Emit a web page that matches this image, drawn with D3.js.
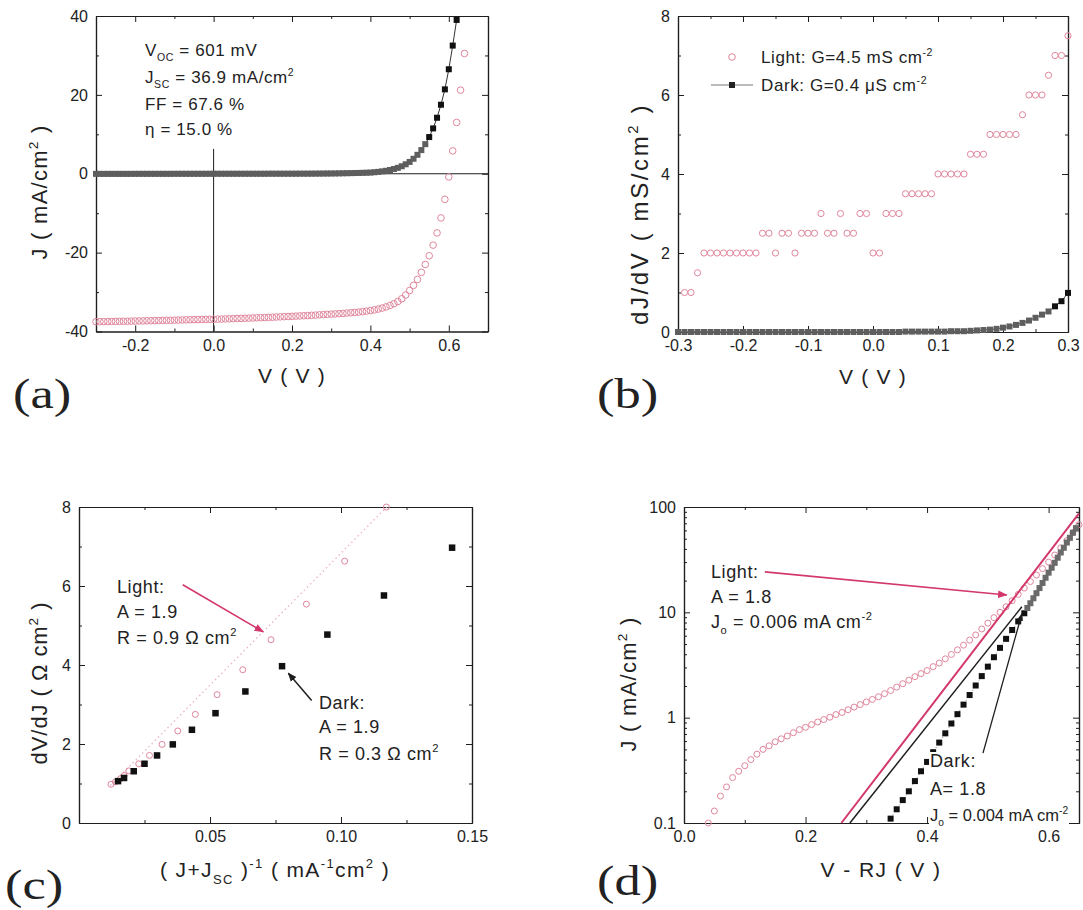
<!DOCTYPE html>
<html><head><meta charset="utf-8">
<script src="https://cdn.jsdelivr.net/npm/d3@7"></script>
<style>
body{margin:0;background:#fff;}
svg{display:block;}
text{font-family:"Liberation Sans",Arial,sans-serif;fill:#222;white-space:pre;}
.serif{font-family:"Liberation Serif","Times New Roman",serif;}
</style></head><body>
<svg id="c" width="1083" height="910"></svg>
<script>
// ---------------- DATA ----------------
// (a) J-V curves
const voltsA = [-0.30,-0.29,-0.28,-0.27,-0.26,-0.25,-0.24,-0.23,-0.22,-0.21,
  -0.20,-0.19,-0.18,-0.17,-0.16,-0.15,-0.14,-0.13,-0.12,-0.11,
  -0.10,-0.09,-0.08,-0.07,-0.06,-0.05,-0.04,-0.03,-0.02,-0.01,
  0.00,0.01,0.02,0.03,0.04,0.05,0.06,0.07,0.08,0.09,
  0.10,0.11,0.12,0.13,0.14,0.15,0.16,0.17,0.18,0.19,
  0.20,0.21,0.22,0.23,0.24,0.25,0.26,0.27,0.28,0.29,
  0.30,0.31,0.32,0.33,0.34,0.35,0.36,0.37,0.38,0.39,
  0.40,0.41,0.42,0.43,0.44,0.45,0.46,0.47,0.48,0.49,
  0.50,0.51,0.52,0.53,0.54,0.55,0.56,0.57,0.58,0.59,
  0.60,0.61,0.62,0.63,0.64];
const lightA = [-37.52,-37.51,-37.50,-37.48,-37.46,-37.44,-37.42,-37.40,-37.39,-37.37,
  -37.35,-37.33,-37.31,-37.29,-37.26,-37.24,-37.22,-37.19,-37.17,-37.15,
  -37.12,-37.10,-37.07,-37.05,-37.02,-36.99,-36.97,-36.95,-36.93,-36.91,
  -36.90,-36.87,-36.84,-36.81,-36.78,-36.75,-36.71,-36.68,-36.64,-36.61,
  -36.57,-36.53,-36.49,-36.46,-36.42,-36.38,-36.33,-36.29,-36.24,-36.20,
  -36.15,-36.10,-36.05,-36.00,-35.95,-35.90,-35.84,-35.78,-35.72,-35.66,
  -35.60,-35.54,-35.48,-35.41,-35.33,-35.25,-35.17,-35.08,-34.98,-34.85,
  -34.70,-34.52,-34.31,-34.06,-33.76,-33.40,-32.95,-32.40,-31.70,-30.75,
  -29.60,-28.30,-26.80,-25.00,-23.00,-20.80,-18.10,-15.00,-11.20,-6.50,
  -0.80,5.80,13.00,21.20,30.50];
const darkA = [-0.03,-0.03,-0.03,-0.03,-0.03,-0.03,-0.03,-0.03,-0.03,-0.03,
  -0.02,-0.02,-0.02,-0.02,-0.02,-0.02,-0.02,-0.02,-0.02,-0.02,
  -0.01,-0.01,-0.01,-0.01,-0.01,-0.01,-0.01,-0.01,-0.01,-0.01,
  0.00,0.00,0.00,0.00,0.00,0.00,0.00,0.00,0.00,0.00,
  0.00,0.00,0.00,0.00,0.01,0.01,0.01,0.01,0.01,0.01,
  0.01,0.01,0.02,0.02,0.02,0.03,0.03,0.04,0.05,0.06,
  0.07,0.08,0.10,0.12,0.14,0.16,0.18,0.20,0.23,0.26,
  0.30,0.38,0.48,0.60,0.75,0.95,1.20,1.50,1.90,2.40,
  3.00,3.80,4.80,6.00,7.50,9.30,11.50,14.20,17.50,21.40,
  26.50,32.50,39.00];

// (b) dJ/dV
const voltsB = [-0.30,-0.29,-0.28,-0.27,-0.26,-0.25,-0.24,-0.23,-0.22,-0.21,
  -0.20,-0.19,-0.18,-0.17,-0.16,-0.15,-0.14,-0.13,-0.12,-0.11,
  -0.10,-0.09,-0.08,-0.07,-0.06,-0.05,-0.04,-0.03,-0.02,-0.01,
  0.00,0.01,0.02,0.03,0.04,0.05,0.06,0.07,0.08,0.09,
  0.10,0.11,0.12,0.13,0.14,0.15,0.16,0.17,0.18,0.19,
  0.20,0.21,0.22,0.23,0.24,0.25,0.26,0.27,0.28,0.29,0.30];
const lightB = [null,1.0,1.0,1.5,2.0,2.0,2.0,2.0,2.0,2.0,
  2.0,2.0,2.0,2.5,2.5,2.0,2.5,2.5,2.0,2.5,
  2.5,2.5,3.0,2.5,2.5,3.0,2.5,2.5,3.0,3.0,
  2.0,2.0,3.0,3.0,3.0,3.5,3.5,3.5,3.5,3.5,
  4.0,4.0,4.0,4.0,4.0,4.5,4.5,4.5,5.0,5.0,
  5.0,5.0,5.0,5.5,6.0,6.0,6.0,6.5,7.0,7.0,7.5];
const darkB = [0,0,0,0,0,0,0,0,0,0,
  0,0,0,0,0,0,0,0,0,0,
  0,0,0,0,0,0,0,0,0,0,
  0.00,0.00,0.00,0.00,0.00,0.01,0.01,0.01,0.01,0.01,
  0.01,0.01,0.02,0.02,0.02,0.03,0.04,0.05,0.06,0.08,
  0.11,0.14,0.18,0.23,0.29,0.36,0.44,0.52,0.65,0.78,0.99];

// (c) dV/dJ vs (J+Jsc)^-1
const invJLight = [0.0122,0.0139,0.0158,0.0172,0.0190,0.0228,0.0269,0.0317,0.0377,0.0444,0.0527,0.0625,0.0733,0.0868,0.1014,0.1173];
const dvdjLight = [0.98,1.04,1.12,1.20,1.32,1.50,1.71,1.99,2.33,2.75,3.25,3.88,4.64,5.54,6.63,8.00];
const invJDark = [0.0149,0.0172,0.0209,0.0250,0.0298,0.0358,0.0431,0.0521,0.0635,0.0775,0.0948,0.1164,0.1424];
const dvdjDark = [1.06,1.14,1.31,1.50,1.71,1.99,2.36,2.78,3.33,3.97,4.77,5.76,6.97];
const fitCx = [0.0120,0.1175];
const fitCy = [0.95,8.00];

// (d) J vs V-RJ (log)
const voltsD = [0.04,0.05,0.06,0.07,0.08,0.09,0.10,0.11,0.12,0.13,
  0.14,0.15,0.16,0.17,0.18,0.19,0.20,0.21,0.22,0.23,
  0.24,0.25,0.26,0.27,0.28,0.29,0.30,0.31,0.32,0.33,
  0.34,0.35,0.36,0.37,0.38,0.39,0.40,0.41,0.42,0.43,
  0.44,0.45,0.46,0.47,0.48,0.49,0.50,0.51,0.52,0.53,
  0.54,0.55,0.56,0.57,0.58,0.59,0.60,0.61,0.62,0.63,0.64,0.65];
const lightD = [0.10,0.13,0.18,0.22,0.27,0.31,0.35,0.40,0.45,0.50,
  0.54,0.59,0.63,0.67,0.72,0.77,0.81,0.86,0.91,0.96,
  1.01,1.07,1.12,1.19,1.26,1.33,1.41,1.49,1.58,1.69,
  1.81,1.95,2.10,2.27,2.45,2.62,2.80,3.05,3.30,3.62,
  3.98,4.40,4.88,5.45,6.10,6.95,7.90,8.90,10.0,11.3,
  12.9,14.8,17.0,19.6,22.6,26.0,30.0,35.0,41.0,48.0,57.0,68.0];
const darkDV = [0.34,0.35,0.36,0.37,0.38,0.39,0.40,0.41,0.42,0.43,0.44,0.45,0.46,0.47,0.48,0.49,0.50,0.51,0.52,0.53,0.54,0.55,0.56,
  0.565,0.57,0.575,0.58,0.585,0.59,0.595,0.60,0.605,0.61,0.615,0.62,0.625,0.63,0.635,0.64,0.645];
const darkDJ = [0.11,0.135,0.165,0.20,0.25,0.31,0.38,0.47,0.58,0.71,0.88,1.08,1.33,1.64,2.02,2.48,3.05,3.75,4.6,5.6,6.8,8.2,9.8,
  11.0,12.2,13.6,15.2,17.0,19.0,21.3,23.8,26.5,29.5,33,37,41,46,51,57,63];
const fitLightDV = [0.259,0.65];
const fitLightDJ = [0.1,87];
const fitDarkDV = [0.273,0.556];
const fitDarkDJ = [0.1,11.3];

// tick values
const ticksAx = [-0.2,0,0.2,0.4,0.6], minorAx = [-0.1,0.1,0.3,0.5];
const ticksAy = [-40,-20,0,20,40], minorAy = [-30,-10,10,30];
const ticksBx = [-0.3,-0.2,-0.1,0,0.1,0.2,0.3], minorBx = [-0.25,-0.15,-0.05,0.05,0.15,0.25];
const ticksBy = [0,2,4,6,8], minorBy = [1,3,5,7];
const ticksCx = [0.05,0.10,0.15], minorCx = [0.025,0.075,0.125];
const ticksCy = [0,2,4,6,8], minorCy = [1,3,5,7];
const ticksDx = [0,0.2,0.4,0.6], minorDx = [0.1,0.3,0.5];
const ticksDy = [0.1,1,10,100], minorDy = [0.2,0.3,0.4,0.5,0.6,0.7,0.8,0.9,2,3,4,5,6,7,8,9,20,30,40,50,60,70,80,90];

// ---------------- DRAWING ----------------
const svg = d3.select("#c");
const ink = "#1e1e1e", pink = "#e0869c", pinkLine = "#d3386b", grayInk = "#5e5e5e";
const defs = svg.append("defs");
function arrowMarker(id, color){
  defs.append("marker").attr("id", id).attr("viewBox","0 0 10 10").attr("refX",9).attr("refY",5)
    .attr("markerWidth",6).attr("markerHeight",6).attr("orient","auto").attr("markerUnits","strokeWidth")
    .append("path").attr("d","M0,1 L10,5 L0,9 z").attr("fill", color);
}
arrowMarker("arP", pinkLine); arrowMarker("arK", ink);

function panel(x0,x1,y0,y1,xdom,ydom,log){
  const x = d3.scaleLinear().domain(xdom).range([x0,x1]);
  const y = (log ? d3.scaleLog() : d3.scaleLinear()).domain(ydom).range([y1,y0]);
  return {x,y,x0,x1,y0,y1,g:svg.append("g")};
}
function axes(p, xMaj, xMin, yMaj, yMin, fx, fy){
  const g = p.g.append("g");
  const mk = (axis, tr, vals, size, fmt, pad) => g.append("g").attr("transform", tr)
      .call(axis.tickValues(vals).tickSizeInner(size).tickSizeOuter(0).tickPadding(pad).tickFormat(fmt));
  const none = () => "";
  mk(d3.axisBottom(p.x), `translate(0,${p.y1})`, xMin, -3, none, 8);
  mk(d3.axisTop(p.x), `translate(0,${p.y0})`, xMin, -3, none, 8);
  mk(d3.axisLeft(p.y), `translate(${p.x0},0)`, yMin, -3, none, 8);
  mk(d3.axisRight(p.y), `translate(${p.x1},0)`, yMin, -3, none, 8);
  mk(d3.axisBottom(p.x), `translate(0,${p.y1})`, xMaj, -6, fx, 8);
  mk(d3.axisTop(p.x), `translate(0,${p.y0})`, xMaj, -6, none, 8);
  mk(d3.axisLeft(p.y), `translate(${p.x0},0)`, yMaj, -6, fy, 8);
  mk(d3.axisRight(p.y), `translate(${p.x1},0)`, yMaj, -6, none, 8);
  g.selectAll(".domain").attr("stroke", ink).attr("stroke-width", 1.2);
  g.selectAll(".tick line").attr("stroke", ink).attr("stroke-width", 1);
  g.selectAll(".tick text").attr("font-size", 16).attr("fill", ink);
}
// rich text with sub/superscripts. parts: strings or [str,'sub'|'sup']
function rich(g, x, y, parts, size, anchor){
  const t = g.append("text").attr("x", x).attr("y", y).attr("font-size", size)
    .attr("text-anchor", anchor || "start");
  let off = 0;
  parts.forEach(p => {
    let s, shift, fs;
    if (typeof p === "string") { s = p; shift = 0; fs = size; }
    else { s = p[0]; shift = p[1] === "sub" ? size*0.32 : -size*0.42; fs = size*0.62; }
    t.append("tspan").text(s).attr("dy", shift - off).attr("font-size", fs);
    off = shift;
  });
  return t;
}
function fit(t, target){
  const L = t.node().getComputedTextLength();
  const n = t.text().length;
  t.attr("letter-spacing", Math.max(0, (target - L) / n));
  return t;
}
function ytitle(g, cx, cy, parts, len, size){
  const gg = g.append("g").attr("transform", `translate(${cx},${cy}) rotate(-90)`);
  fit(rich(gg, 0, 0, parts, size || 21, "middle"), len);
}
function xtitle(g, cx, y, parts, len){
  fit(rich(g, cx, y, parts, 21, "middle"), len);
}
function plabel(x, y, s){
  svg.append("text").attr("class","serif").attr("transform", `translate(${x},${y}) scale(1.25,1)`)
    .attr("font-size", 42).attr("fill", "#1a1a1a").text(s);
}
function circles(p, pts, r){
  p.g.append("g").selectAll("circle").data(pts).join("circle")
    .attr("cx", d => p.x(d[0])).attr("cy", d => p.y(d[1])).attr("r", r || 3.2)
    .attr("fill", "none").attr("stroke", pink).attr("stroke-width", 1);
}
function squares(p, pts, s, colorFn){
  p.g.append("g").selectAll("rect").data(pts).join("rect")
    .attr("x", d => p.x(d[0]) - s/2).attr("y", d => p.y(d[1]) - s/2).attr("width", s).attr("height", s)
    .attr("fill", colorFn);
}
function connect(p, pts, color, w, dash){
  p.g.append("path").datum(pts).attr("d", d3.line().x(d => p.x(d[0])).y(d => p.y(d[1])))
    .attr("fill","none").attr("stroke", color).attr("stroke-width", w).attr("stroke-dasharray", dash || null);
}
const fmt1 = d => d.toFixed(1), fmt2 = d => d.toFixed(2), fmtInt = d => String(d);

// ===== Panel (a) =====
const A = panel(96, 488, 16, 331.5, [-0.3, 0.7], [-40, 40]);
A.g.append("line").attr("x1", A.x(-0.3)).attr("x2", A.x(0.7)).attr("y1", A.y(0)).attr("y2", A.y(0)).attr("stroke", ink);
A.g.append("line").attr("x1", A.x(0)).attr("x2", A.x(0)).attr("y1", A.y(-40)).attr("y2", A.y(6.3)).attr("stroke", ink);
axes(A, ticksAx, minorAx, ticksAy, minorAy, fmt1, fmtInt);
const ptsLightA = voltsA.map((v,i) => [v, lightA[i]]);
const ptsDarkA = darkA.map((j,i) => [voltsA[i], j]);
circles(A, ptsLightA, 3.3);
connect(A, ptsDarkA, "#333", 1);
squares(A, ptsDarkA, 6, d => d[1] > 8 ? "#111" : grayInk);
rich(A.g, 145, 56, ["V", ["OC","sub"], " = 601 mV"], 17).attr("letter-spacing", 0.6);
rich(A.g, 145, 83, ["J", ["SC","sub"], " = 36.9 mA/cm", ["2","sup"]], 17).attr("letter-spacing", 0.6);
rich(A.g, 145, 110, ["FF = 67.6 %"], 17).attr("letter-spacing", 0.6);
rich(A.g, 145, 135, ["\u03b7 = 15.0 %"], 17).attr("letter-spacing", 0.6);
ytitle(A.g, 47, 192, ["J ( mA/cm", ["2","sup"], " )"], 135, 22);
xtitle(A.g, 292, 383, ["V ( V )"], 68);
plabel(13, 408, "(a)");

// ===== Panel (b) =====
const B = panel(678, 1068, 16, 332, [-0.3, 0.3], [0, 8]);
axes(B, ticksBx, minorBx, ticksBy, minorBy, fmt1, fmtInt);
const ptsDarkB = darkB.map((j,i) => [voltsB[i], j]);
connect(B, ptsDarkB, "#444", 1);
squares(B, ptsDarkB, 6, d => d[1] > 0.6 ? "#111" : grayInk);
const ptsLightB = lightB.map((j,i) => [voltsB[i], j]).filter(d => d[1] !== null);
circles(B, ptsLightB, 3.1);
// legend
B.g.append("circle").attr("cx", 732).attr("cy", 57).attr("r", 3.3).attr("fill","none").attr("stroke", pink);
B.g.append("line").attr("x1", 711).attr("x2", 753).attr("y1", 85).attr("y2", 85).attr("stroke", "#777");
B.g.append("rect").attr("x", 729).attr("y", 82).attr("width", 6).attr("height", 6).attr("fill", "#222");
rich(B.g, 761, 63, ["Light: G=4.5 mS cm", ["-2","sup"]], 17).attr("letter-spacing", 0.6);
rich(B.g, 761, 91, ["Dark: G=0.4 \u03bcS cm", ["-2","sup"]], 17).attr("letter-spacing", 0.6);
ytitle(B.g, 648, 214, ["dJ/dV ( mS/cm", ["2","sup"], " )"], 222, 24);
xtitle(B.g, 873, 384, ["V ( V )"], 68);
plabel(597, 408, "(b)");

// ===== Panel (c) =====
const C = panel(79, 472, 507, 823, [0, 0.15], [0, 8]);
axes(C, ticksCx, minorCx, ticksCy, minorCy, fmt2, fmtInt);
connect(C, fitCx.map((v,i) => [v, fitCy[i]]), "#ebb3c2", 1.3, "1.5,3");
circles(C, invJLight.map((v,i) => [v, dvdjLight[i]]), 3);
squares(C, invJDark.map((v,i) => [v, dvdjDark[i]]), 6.5, () => "#111");
C.g.append("line").attr("x1", C.x(0.0396)).attr("y1", C.y(6.03)).attr("x2", C.x(0.0703)).attr("y2", C.y(4.84))
  .attr("stroke", pinkLine).attr("stroke-width", 1.6).attr("marker-end", "url(#arP)");
C.g.append("line").attr("x1", C.x(0.0888)).attr("y1", C.y(3.10)).attr("x2", C.x(0.0799)).attr("y2", C.y(3.79))
  .attr("stroke", ink).attr("stroke-width", 1.5).attr("marker-end", "url(#arK)");
rich(C.g, 117, 593, ["Light:"], 18).attr("letter-spacing", 0.6);
rich(C.g, 117, 618, ["A = 1.9"], 18).attr("letter-spacing", 0.6);
rich(C.g, 117, 644, ["R = 0.9 \u03a9 cm", ["2","sup"]], 18).attr("letter-spacing", 0.6);
rich(C.g, 319, 709, ["Dark:"], 18).attr("letter-spacing", 0.6);
rich(C.g, 319, 733, ["A = 1.9"], 18).attr("letter-spacing", 0.6);
rich(C.g, 319, 760, ["R = 0.3 \u03a9 cm", ["2","sup"]], 18).attr("letter-spacing", 0.6);
ytitle(C.g, 47, 683, ["dV/dJ ( \u03a9 cm", ["2","sup"], " )"], 163, 22);
xtitle(C.g, 275, 877, ["( J+J", ["SC","sub"], " )", ["-1","sup"], " ( mA", ["-1","sup"], "cm", ["2","sup"], " )"], 230);
plabel(5, 899, "(c)");

// ===== Panel (d) =====
const D = panel(684, 1079, 507, 823, [0, 0.65], [0.1, 100], true);
axes(D, ticksDx, minorDx, ticksDy, minorDy, fmt1, d => d < 1 ? "0.1" : String(d));
circles(D, voltsD.map((v,i) => [v, lightD[i]]), 3);
connect(D, darkDV.map((v,i) => [v, darkDJ[i]]), "#666", 0.8, "1,3");
squares(D, darkDV.map((v,i) => [v, darkDJ[i]]), 6, d => d[0] > 0.56 ? "#6a6a6a" : "#111");
connect(D, fitDarkDV.map((v,i) => [v, fitDarkDJ[i]]), ink, 1.5);
connect(D, fitLightDV.map((v,i) => [v, fitLightDJ[i]]), pinkLine, 2);
D.g.append("rect").attr("x", 929).attr("y", 752).attr("width", 140).attr("height", 78).attr("fill", "#fff");
D.g.append("line").attr("x1", D.x(0.133)).attr("y1", D.y(24.2)).attr("x2", D.x(0.531)).attr("y2", D.y(14.6))
  .attr("stroke", pinkLine).attr("stroke-width", 1.6).attr("marker-end", "url(#arP)");
D.g.append("line").attr("x1", D.x(0.492)).attr("y1", D.y(0.46)).attr("x2", D.x(0.556)).attr("y2", D.y(9.7))
  .attr("stroke", ink).attr("stroke-width", 1.3).attr("marker-end", "url(#arK)");
rich(D.g, 711, 578, ["Light:"], 18).attr("letter-spacing", 0.6);
rich(D.g, 711, 603, ["A = 1.8"], 18).attr("letter-spacing", 0.6);
rich(D.g, 711, 628, ["J", ["o","sub"], " = 0.006 mA cm", ["-2","sup"]], 18).attr("letter-spacing", 0.6);
rich(D.g, 930, 767, ["Dark:"], 18).attr("letter-spacing", 0.6);
rich(D.g, 930, 795, ["A= 1.8"], 18).attr("letter-spacing", 0.6);
rich(D.g, 930, 821, ["J", ["o","sub"], " = 0.004 mA cm", ["-2","sup"]], 16.5);
ytitle(D.g, 636, 684, ["J ( mA/cm", ["2","sup"], " )"], 135, 22);
xtitle(D.g, 881, 877, ["V - RJ ( V )"], 121);
plabel(597, 895, "(d)");
</script>
</body></html>
